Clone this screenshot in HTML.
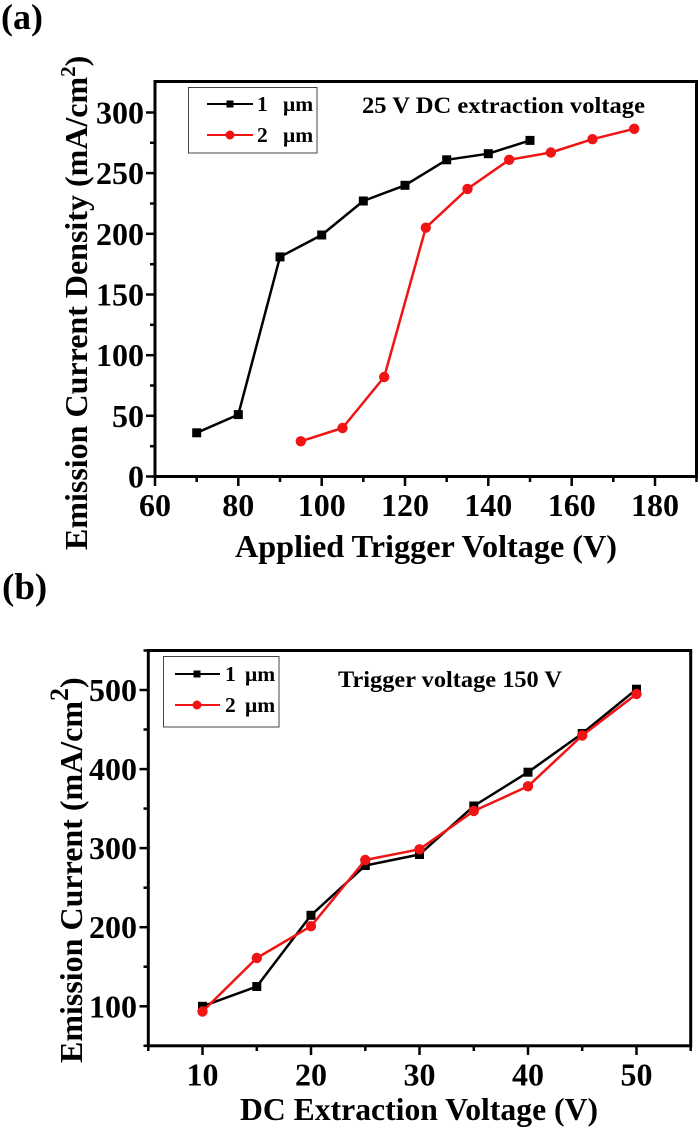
<!DOCTYPE html>
<html>
<head>
<meta charset="utf-8">
<style>
html,body{margin:0;padding:0;background:#fff;}
svg{display:block;}
text{font-family:"Liberation Serif","Times New Roman",serif;font-weight:bold;fill:#000;}
</style>
</head>
<body>
<svg xmlns="http://www.w3.org/2000/svg" width="700" height="1129" viewBox="0 0 700 1129">
<rect width="700" height="1129" fill="#fff"/>

<!-- ================= (a) ================= -->
<text x="1" y="29" font-size="36">(a)</text>

<rect x="155" y="81.5" width="541.5" height="395" fill="none" stroke="#000" stroke-width="3"/>

<g stroke="#000" stroke-width="2.5">
  <line x1="146" y1="476.5" x2="155" y2="476.5"/>
  <line x1="146" y1="415.8" x2="155" y2="415.8"/>
  <line x1="146" y1="355.2" x2="155" y2="355.2"/>
  <line x1="146" y1="294.5" x2="155" y2="294.5"/>
  <line x1="146" y1="233.8" x2="155" y2="233.8"/>
  <line x1="146" y1="173.1" x2="155" y2="173.1"/>
  <line x1="146" y1="112.5" x2="155" y2="112.5"/>
  <line x1="150" y1="446.2" x2="155" y2="446.2"/>
  <line x1="150" y1="385.5" x2="155" y2="385.5"/>
  <line x1="150" y1="324.8" x2="155" y2="324.8"/>
  <line x1="150" y1="264.2" x2="155" y2="264.2"/>
  <line x1="150" y1="203.5" x2="155" y2="203.5"/>
  <line x1="150" y1="142.8" x2="155" y2="142.8"/>
</g>
<g stroke="#000" stroke-width="2.5">
  <line x1="155" y1="476.5" x2="155" y2="486"/>
  <line x1="238.3" y1="476.5" x2="238.3" y2="486"/>
  <line x1="321.7" y1="476.5" x2="321.7" y2="486"/>
  <line x1="405" y1="476.5" x2="405" y2="486"/>
  <line x1="488.3" y1="476.5" x2="488.3" y2="486"/>
  <line x1="571.7" y1="476.5" x2="571.7" y2="486"/>
  <line x1="655" y1="476.5" x2="655" y2="486"/>
  <line x1="196.7" y1="476.5" x2="196.7" y2="482"/>
  <line x1="280" y1="476.5" x2="280" y2="482"/>
  <line x1="363.3" y1="476.5" x2="363.3" y2="482"/>
  <line x1="446.7" y1="476.5" x2="446.7" y2="482"/>
  <line x1="530" y1="476.5" x2="530" y2="482"/>
  <line x1="613.3" y1="476.5" x2="613.3" y2="482"/>
  <line x1="696.5" y1="476.5" x2="696.5" y2="482"/>
</g>

<g font-size="32" text-anchor="end">
  <text x="144" y="487.5">0</text>
  <text x="144" y="426.8">50</text>
  <text x="144" y="366.2">100</text>
  <text x="144" y="305.5">150</text>
  <text x="144" y="244.8">200</text>
  <text x="144" y="184.1">250</text>
  <text x="144" y="123.5">300</text>
</g>
<g font-size="32" text-anchor="middle">
  <text x="155" y="516">60</text>
  <text x="238.3" y="516">80</text>
  <text x="321.7" y="516">100</text>
  <text x="405" y="516">120</text>
  <text x="488.3" y="516">140</text>
  <text x="571.7" y="516">160</text>
  <text x="655" y="516">180</text>
</g>

<text x="235" y="557" font-size="32" textLength="382" lengthAdjust="spacingAndGlyphs">Applied Trigger Voltage (V)</text>
<text transform="translate(87,550) rotate(-90)" font-size="32">Emission Current Density (mA/cm<tspan font-size="21" dy="-12">2</tspan><tspan dy="12">)</tspan></text>

<text x="362" y="113" font-size="23.5" textLength="283" lengthAdjust="spacingAndGlyphs">25 V DC extraction voltage</text>

<polyline fill="none" stroke="#000" stroke-width="2.5" stroke-linejoin="round"
  points="196.7,432.8 238.3,414.6 280,256.9 321.7,235 363.3,201 405,185.3 446.7,159.8 488.3,153.7 530,140.4"/>
<g fill="#000">
  <rect x="192.2" y="428.3" width="9" height="9"/>
  <rect x="233.8" y="410.1" width="9" height="9"/>
  <rect x="275.5" y="252.4" width="9" height="9"/>
  <rect x="317.2" y="230.5" width="9" height="9"/>
  <rect x="358.8" y="196.5" width="9" height="9"/>
  <rect x="400.5" y="180.8" width="9" height="9"/>
  <rect x="442.2" y="155.3" width="9" height="9"/>
  <rect x="483.8" y="149.2" width="9" height="9"/>
  <rect x="525.5" y="135.9" width="9" height="9"/>
</g>
<polyline fill="none" stroke="#f01414" stroke-width="2.5" stroke-linejoin="round"
  points="300.8,441.3 342.5,428 384.2,377 425.8,227.7 467.5,188.9 509.2,159.8 550.8,152.5 592.5,139.2 634.2,128.8"/>
<g fill="#f01414">
  <circle cx="300.8" cy="441.3" r="5.2"/>
  <circle cx="342.5" cy="428" r="5.2"/>
  <circle cx="384.2" cy="377" r="5.2"/>
  <circle cx="425.8" cy="227.7" r="5.2"/>
  <circle cx="467.5" cy="188.9" r="5.2"/>
  <circle cx="509.2" cy="159.8" r="5.2"/>
  <circle cx="550.8" cy="152.5" r="5.2"/>
  <circle cx="592.5" cy="139.2" r="5.2"/>
  <circle cx="634.2" cy="128.8" r="5.2"/>
</g>

<rect x="188.5" y="87.5" width="128.5" height="65.5" fill="#fff" stroke="#444" stroke-width="1"/>
<line x1="207" y1="104" x2="253" y2="104" stroke="#000" stroke-width="2"/>
<rect x="226.5" y="100.5" width="7" height="7" fill="#000"/>
<text x="257" y="111" font-size="21.5">1</text>
<text x="283" y="111" font-size="21.5">μm</text>
<line x1="207" y1="135" x2="253" y2="135" stroke="#f01414" stroke-width="2"/>
<circle cx="230" cy="135" r="4.5" fill="#f01414"/>
<text x="257" y="142" font-size="21.5">2</text>
<text x="283" y="142" font-size="21.5">μm</text>

<!-- ================= (b) ================= -->
<text x="2" y="599" font-size="37">(b)</text>

<rect x="148.3" y="650.5" width="542.4" height="395.3" fill="none" stroke="#000" stroke-width="3"/>

<g stroke="#000" stroke-width="2.5">
  <line x1="139.5" y1="1006.3" x2="148.3" y2="1006.3"/>
  <line x1="139.5" y1="927.2" x2="148.3" y2="927.2"/>
  <line x1="139.5" y1="848.1" x2="148.3" y2="848.1"/>
  <line x1="139.5" y1="769.1" x2="148.3" y2="769.1"/>
  <line x1="139.5" y1="690" x2="148.3" y2="690"/>
  <line x1="143.5" y1="966.7" x2="148.3" y2="966.7"/>
  <line x1="143.5" y1="887.7" x2="148.3" y2="887.7"/>
  <line x1="143.5" y1="808.6" x2="148.3" y2="808.6"/>
  <line x1="143.5" y1="729.5" x2="148.3" y2="729.5"/>
  <line x1="143.5" y1="1045.8" x2="148.3" y2="1045.8"/>
  <line x1="143.5" y1="650.5" x2="148.3" y2="650.5"/>
</g>
<g stroke="#000" stroke-width="2.5">
  <line x1="202.5" y1="1045.8" x2="202.5" y2="1055"/>
  <line x1="311" y1="1045.8" x2="311" y2="1055"/>
  <line x1="419.5" y1="1045.8" x2="419.5" y2="1055"/>
  <line x1="528" y1="1045.8" x2="528" y2="1055"/>
  <line x1="636.5" y1="1045.8" x2="636.5" y2="1055"/>
  <line x1="148.3" y1="1045.8" x2="148.3" y2="1051"/>
  <line x1="256.8" y1="1045.8" x2="256.8" y2="1051"/>
  <line x1="365.3" y1="1045.8" x2="365.3" y2="1051"/>
  <line x1="473.8" y1="1045.8" x2="473.8" y2="1051"/>
  <line x1="582.2" y1="1045.8" x2="582.2" y2="1051"/>
  <line x1="690.7" y1="1045.8" x2="690.7" y2="1051"/>
</g>

<g font-size="32" text-anchor="end">
  <text x="137" y="1017.3">100</text>
  <text x="137" y="938.2">200</text>
  <text x="137" y="859.1">300</text>
  <text x="137" y="780.1">400</text>
  <text x="137" y="701">500</text>
</g>
<g font-size="32" text-anchor="middle">
  <text x="202.5" y="1085.5">10</text>
  <text x="311" y="1085.5">20</text>
  <text x="419.5" y="1085.5">30</text>
  <text x="528" y="1085.5">40</text>
  <text x="636.5" y="1085.5">50</text>
</g>

<text x="240" y="1120" font-size="32" textLength="358" lengthAdjust="spacingAndGlyphs">DC Extraction Voltage (V)</text>
<text transform="translate(82,1063) rotate(-90)" font-size="32">Emission Current (mA/cm<tspan font-size="26" dy="-14">2</tspan><tspan dy="14">)</tspan></text>

<text x="338" y="687" font-size="23.5" textLength="224" lengthAdjust="spacingAndGlyphs">Trigger voltage 150 V</text>

<polyline fill="none" stroke="#000" stroke-width="2.5" stroke-linejoin="round"
  points="202.5,1006.3 256.8,986.5 311,915.3 365.3,865.5 419.5,854.5 473.8,806 528,772.2 582.2,733.5 636.5,689.2"/>
<g fill="#000">
  <rect x="198" y="1001.8" width="9" height="9"/>
  <rect x="252.3" y="982" width="9" height="9"/>
  <rect x="306.5" y="910.8" width="9" height="9"/>
  <rect x="360.8" y="861" width="9" height="9"/>
  <rect x="415" y="850" width="9" height="9"/>
  <rect x="469.3" y="801.5" width="9" height="9"/>
  <rect x="523.5" y="767.7" width="9" height="9"/>
  <rect x="577.7" y="729" width="9" height="9"/>
  <rect x="632" y="684.7" width="9" height="9"/>
</g>
<polyline fill="none" stroke="#f01414" stroke-width="2.5" stroke-linejoin="round"
  points="202.5,1011.5 256.8,958 311,926.2 365.3,860 419.5,849.3 473.8,811 528,786.3 582.2,735.5 636.5,694"/>
<g fill="#f01414">
  <circle cx="202.5" cy="1011.5" r="5.2"/>
  <circle cx="256.8" cy="958" r="5.2"/>
  <circle cx="311" cy="926.2" r="5.2"/>
  <circle cx="365.3" cy="860" r="5.2"/>
  <circle cx="419.5" cy="849.3" r="5.2"/>
  <circle cx="473.8" cy="811" r="5.2"/>
  <circle cx="528" cy="786.3" r="5.2"/>
  <circle cx="582.2" cy="735.5" r="5.2"/>
  <circle cx="636.5" cy="694" r="5.2"/>
</g>

<rect x="163.5" y="656.5" width="115.5" height="70.5" fill="#fff" stroke="#444" stroke-width="1"/>
<line x1="175" y1="674" x2="220" y2="674" stroke="#000" stroke-width="2"/>
<rect x="193.5" y="670.5" width="7" height="7" fill="#000"/>
<text x="225" y="681" font-size="21.5">1</text>
<text x="245" y="681" font-size="21.5">μm</text>
<line x1="175" y1="705" x2="220" y2="705" stroke="#f01414" stroke-width="2"/>
<circle cx="197" cy="705" r="4.5" fill="#f01414"/>
<text x="225" y="712" font-size="21.5">2</text>
<text x="245" y="712" font-size="21.5">μm</text>

</svg>
</body>
</html>
